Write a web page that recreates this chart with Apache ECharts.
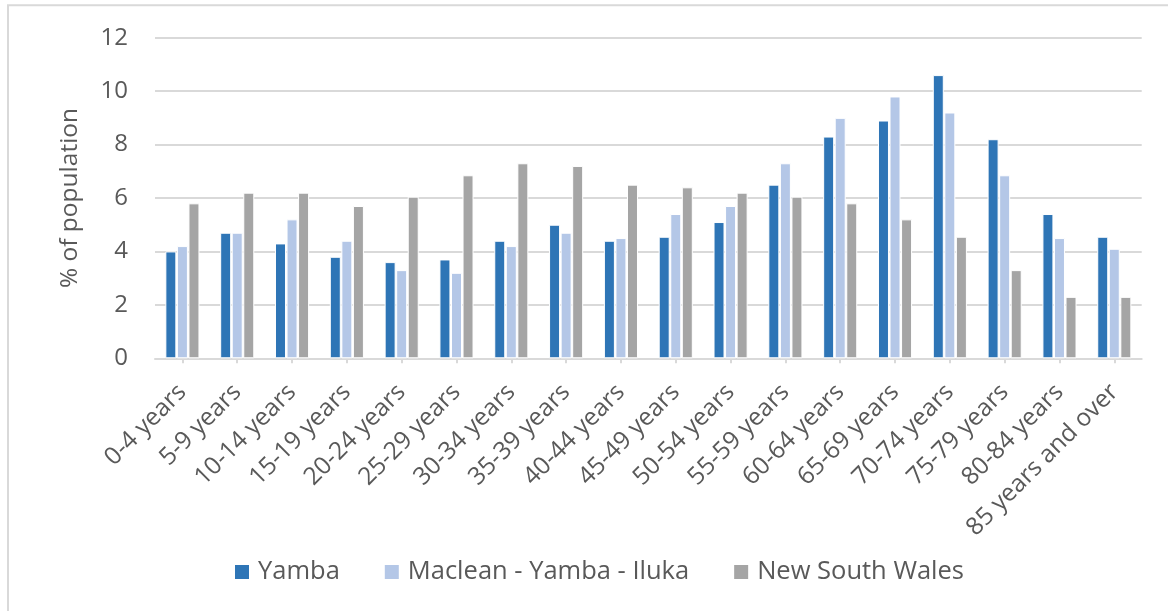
<!DOCTYPE html>
<html>
<head>
<meta charset="utf-8">
<script src="https://cdn.jsdelivr.net/npm/echarts@6/dist/echarts.min.js"></script>
<style>
  html, body { margin: 0; padding: 0; background: #fff; }
  #chart { width: 1168px; height: 611px; }
</style>
</head>
<body>
<div id="chart"></div>
<script>
// Age groups on the category axis
const ageGroups = [
  '0-4 years', '5-9 years', '10-14 years', '15-19 years', '20-24 years',
  '25-29 years', '30-34 years', '35-39 years', '40-44 years', '45-49 years',
  '50-54 years', '55-59 years', '60-64 years', '65-69 years', '70-74 years',
  '75-79 years', '80-84 years', '85 years and over'
];

// Share of population (%) in each age group
const yamba = [4.0, 4.7, 4.3, 3.8, 3.6, 3.7, 4.4, 5.0, 4.4, 4.55, 5.1, 6.5, 8.3, 8.9, 10.6, 8.2, 5.4, 4.55];
const macleanYambaIluka = [4.2, 4.7, 5.2, 4.4, 3.3, 3.2, 4.2, 4.7, 4.5, 5.4, 5.7, 7.3, 9.0, 9.8, 9.2, 6.85, 4.5, 4.1];
const newSouthWales = [5.8, 6.2, 6.2, 5.7, 6.05, 6.85, 7.3, 7.2, 6.5, 6.4, 6.2, 6.05, 5.8, 5.2, 4.55, 3.3, 2.3, 2.3];

const seriesNames = ['Yamba', 'Maclean - Yamba - Iluka', 'New South Wales'];
const seriesColors = ['#2E75B6', '#B4C7E7', '#A5A5A5'];

const textColor = '#595959';
const lineColor = '#D9D9D9';
const fontFamily = '"Open Sans", "Noto Sans", sans-serif';

const chart = echarts.init(document.getElementById('chart'), null, { renderer: 'canvas' });

function barSeries(name, data, color) {
  return {
    name: name,
    type: 'bar',
    data: data,
    barWidth: 11,
    barGap: '5%',
    itemStyle: { color: color, borderColor: '#ffffff', borderWidth: 1 },
    emphasis: { disabled: true }
  };
}

chart.setOption({
  backgroundColor: '#ffffff',
  animation: false,
  textStyle: { fontFamily: fontFamily, color: textColor },
  graphic: [{
    type: 'rect',
    shape: { x: 8, y: 5.3, width: 1300, height: 800 },
    style: { fill: 'none', stroke: lineColor, lineWidth: 2 },
    silent: true,
    z: -1
  }],
  grid: { left: 155, right: 26.3, top: 37.7, bottom: 252.7 },
  legend: {
    data: seriesNames,
    left: 233,
    top: 559,
    padding: 0,
    icon: 'rect',
    itemWidth: 16,
    itemHeight: 16,
    itemGap: 43,
    textStyle: { fontFamily: fontFamily, fontSize: 25.5, color: textColor, padding: [0, 0, 0, 3] }
  },
  xAxis: {
    type: 'category',
    data: ageGroups,
    axisLine: { lineStyle: { color: lineColor, width: 2 } },
    axisTick: { show: true, alignWithLabel: true, length: 5, lineStyle: { color: lineColor, width: 2 } },
    axisLabel: {
      interval: 0,
      rotate: 45,
      margin: 30,
      fontFamily: fontFamily,
      fontSize: 24.5,
      color: textColor
    }
  },
  yAxis: {
    type: 'value',
    min: 0,
    max: 12,
    interval: 2,
    name: '% of population',
    nameLocation: 'middle',
    nameGap: 72,
    nameTextStyle: { fontFamily: fontFamily, fontSize: 24.5, color: textColor },
    axisLine: { show: false },
    axisTick: { show: false },
    axisLabel: { margin: 27, fontFamily: fontFamily, fontSize: 24, color: textColor },
    splitLine: { lineStyle: { color: lineColor, width: 2 } }
  },
  series: [
    barSeries(seriesNames[0], yamba, seriesColors[0]),
    barSeries(seriesNames[1], macleanYambaIluka, seriesColors[1]),
    barSeries(seriesNames[2], newSouthWales, seriesColors[2])
  ]
});
</script>
</body>
</html>
